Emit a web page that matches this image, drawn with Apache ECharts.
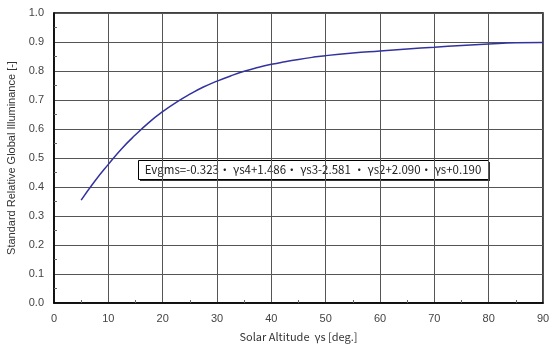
<!DOCTYPE html>
<html>
<head>
<meta charset="UTF-8">
<script src="https://cdn.jsdelivr.net/npm/echarts@6/dist/echarts.min.js"></script>
<style>
  body { margin: 0; background: #fff; }
  #chart { width: 556px; height: 350px; }
</style>
</head>
<body>
<div id="chart"></div>
<script>
// solar altitude (deg) and read-off illuminance values
var altitude = [5, 7.5, 10, 12.5, 15, 17.5, 20, 22.5, 25, 27.5, 30, 32.5, 35, 37.5, 40, 42.5, 45, 47.5, 50, 55, 60, 65, 70, 75, 80, 85, 90];
var illuminance = [0.355, 0.42, 0.478, 0.533, 0.58, 0.623, 0.66, 0.692, 0.72, 0.745, 0.765, 0.783, 0.799, 0.812, 0.823, 0.832, 0.84, 0.847, 0.853, 0.862, 0.869, 0.876, 0.882, 0.888, 0.893, 0.897, 0.898];
var equationText = 'Evgms=-0.323・ γs4+1.486・ γs3-2.581 ・ γs2+2.090・ γs+0.190';

var font = 'Liberation Sans';
var jpFont = 'Noto Sans CJK JP';
var chart = echarts.init(document.getElementById('chart'));
chart.setOption({
  animation: false,
  grid: { left: 54, right: 13, top: 13, bottom: 47, outerBoundsMode: 'none',
    show: true, borderColor: '#000', borderWidth: 1.5 },
  xAxis: {
    type: 'value', min: 0, max: 90, interval: 10,
    name: 'Solar Altitude  γs [deg.]', nameLocation: 'middle', nameGap: 28,
    nameTextStyle: { color: '#333', fontSize: 11, fontFamily: jpFont },
    axisLine: { lineStyle: { color: '#000', width: 1.5 } },
    axisTick: { show: false, inside: true },
    minorTick: { show: true, splitNumber: 2, length: 3, lineStyle: { color: '#666' } },
    axisLabel: { color: '#444', fontSize: 11, fontFamily: font, margin: 10 },
    splitLine: { lineStyle: { color: '#555', width: 1 } }
  },
  yAxis: {
    type: 'value', min: 0, max: 1, interval: 0.1,
    name: 'Standard Relative Global Illuminance [-]', nameLocation: 'middle', nameGap: 34,
    nameTextStyle: { color: '#333', fontSize: 11, fontFamily: font },
    axisLine: { lineStyle: { color: '#000', width: 1.5 } },
    axisTick: { show: false, inside: true },
    minorTick: { show: true, splitNumber: 2, length: 3, lineStyle: { color: '#666' } },
    axisLabel: { color: '#444', fontSize: 11, fontFamily: font, margin: 10,
      formatter: function (v) { return v.toFixed(1); } },
    splitLine: { lineStyle: { color: '#555', width: 1 } }
  },
  series: [{
    type: 'line',
    data: altitude.map(function (a, i) { return [a, illuminance[i]]; }),
    smooth: true,
    showSymbol: false,
    lineStyle: { color: '#3333a0', width: 1.5 }
  }],
  graphic: [{
    type: 'group', left: 138, top: 160,
    children: [{
      type: 'rect', shape: { x: 2, y: 2, width: 350, height: 19 },
      style: { fill: '#333' }
    }, {
      type: 'rect', shape: { x: 0.5, y: 0.5, width: 350, height: 19 },
      style: { fill: '#fff', stroke: '#000', lineWidth: 1 }
    }, {
      type: 'text', x: 175, y: 10,
      style: { text: equationText, fill: '#222', fontSize: 11.5, fontFamily: jpFont,
        align: 'center', verticalAlign: 'middle' }
    }]
  }]
});
</script>
</body>
</html>
